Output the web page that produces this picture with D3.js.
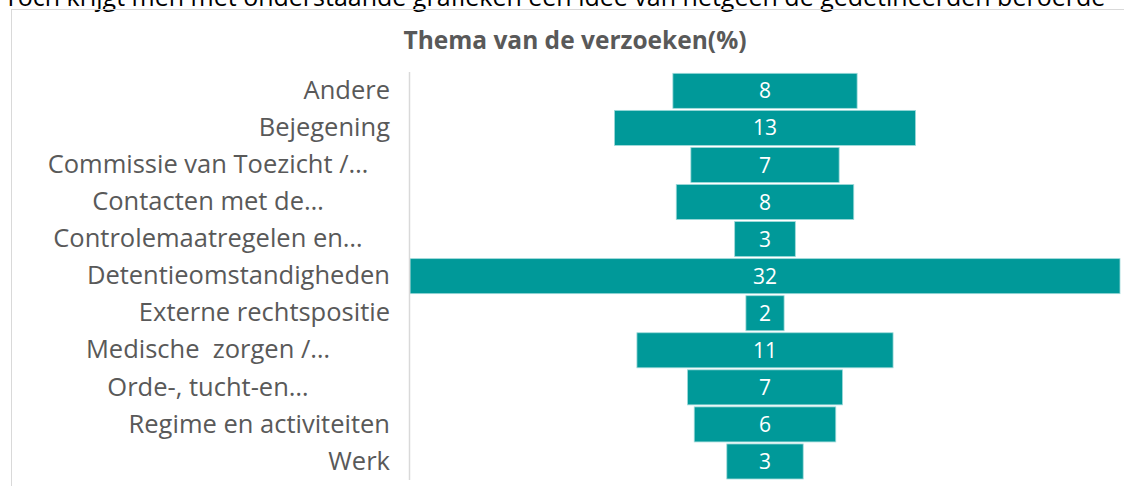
<!DOCTYPE html>
<html>
<head>
<meta charset="utf-8">
<script src="https://cdn.jsdelivr.net/npm/d3@7"></script>
<style>
  body { margin: 0; background: #fff; }
  svg { display: block; font-family: "Open Sans", Lato, sans-serif; }
</style>
</head>
<body>
<div id="chart"></div>
<script>
// categories as shown on the axis (Excel truncated the long ones)
var categories = ["Andere", "Bejegening", "Commissie van Toezicht /\u2026", "Contacten met de\u2026",
    "Controlemaatregelen en\u2026", "Detentieomstandigheden", "Externe rechtspositie",
    "Medische  zorgen /\u2026", "Orde-, tucht-en\u2026", "Regime en activiteiten", "Werk"];

// share of the requests (%)
var values = [8.2, 13.4, 6.6, 7.9, 2.7, 31.6, 1.7, 11.4, 6.9, 6.3, 3.4];

var title = "Thema van de verzoeken(%)";
var introText = "Toch krijgt men met onderstaande grafieken een idee van hetgeen de gedetineerden beroerde";

var width = 1124, height = 486;
var axisX = 409.5, center = 765;

var data = categories.map(function (c, i) {
    return {cat: c, value: values[i]};
});

var svg = d3.select("#chart").append("svg")
    .attr("width", width)
    .attr("height", height);

// the sentence above the chart, cut off by the screenshot
svg.append("text")
    .attr("x", 4)
    .attr("y", 6)
    .attr("font-size", "25px")
    .attr("fill", "#000")
    .text(introText);

// chart frame
svg.append("rect")
    .attr("x", 11.5)
    .attr("y", 9.5)
    .attr("width", 1200)
    .attr("height", 600)
    .attr("fill", "none")
    .attr("stroke", "#d9d9d9");

svg.append("text")
    .attr("x", 575)
    .attr("y", 49)
    .attr("text-anchor", "middle")
    .attr("font-weight", "bold")
    .attr("font-size", "24.5px")
    .attr("fill", "#595959")
    .text(title);

var y = d3.scaleBand()
    .domain(categories)
    .range([72.3, 480])
    .paddingInner(0.055)
    .paddingOuter(0.0275);

var x = d3.scaleLinear()
    .domain([0, d3.max(values)])
    .range([0, 710]);

// funnel bars, centred on the middle of the plot
svg.append("g")
    .selectAll("rect")
    .data(data)
    .enter().append("rect")
    .attr("x", function (d) { return center - x(d.value) / 2; })
    .attr("y", function (d) { return y(d.cat); })
    .attr("width", function (d) { return x(d.value); })
    .attr("height", y.bandwidth())
    .attr("fill", "#009999")
    .attr("stroke", "#9fdada")
    .attr("stroke-width", 0.8);

svg.append("g")
    .selectAll("text")
    .data(data)
    .enter().append("text")
    .attr("x", center)
    .attr("y", function (d) { return y(d.cat) + y.bandwidth() / 2; })
    .attr("dy", "0.36em")
    .attr("text-anchor", "middle")
    .attr("font-size", "21px")
    .attr("fill", "#fff")
    .text(function (d) { return Math.round(d.value); });

// category axis
var axis = svg.append("g")
    .attr("transform", "translate(" + axisX + ",0)")
    .call(d3.axisLeft(y).tickSize(0).tickPadding(19.5));

axis.select(".domain")
    .attr("d", "M0," + 72 + "V" + 480)
    .attr("stroke", "#d9d9d9")
    .attr("stroke-width", 1.5);

axis.selectAll(".tick text")
    .attr("font-family", "Open Sans")
    .attr("font-size", "25.5px")
    .attr("fill", "#595959")
    .style("white-space", "pre")
    .each(function (d) {
        // wrapped/truncated labels are centred in the label area
        if (d.slice(-1) === "\u2026") {
            d3.select(this).attr("text-anchor", "middle").attr("x", 208 - axisX);
        }
    });
</script>
</body>
</html>
